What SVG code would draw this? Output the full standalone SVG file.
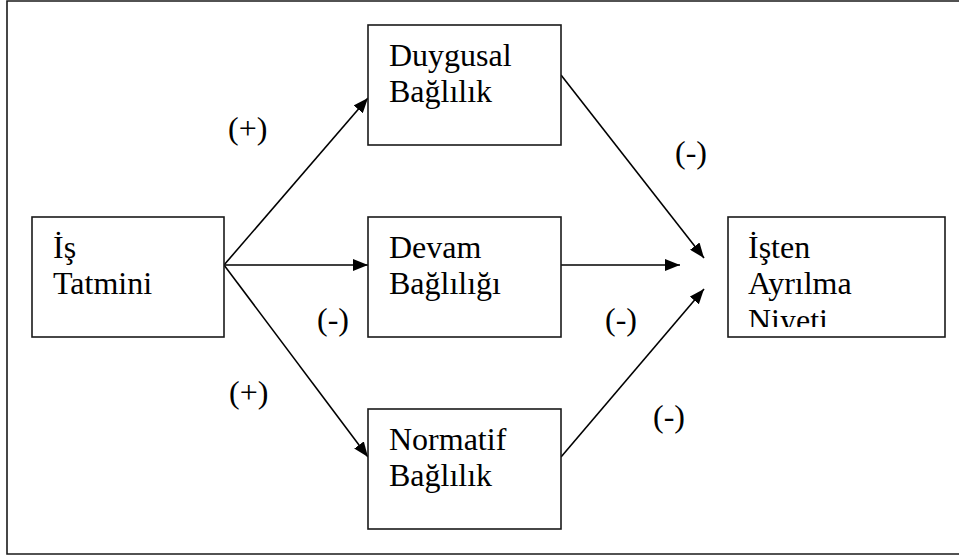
<svg xmlns="http://www.w3.org/2000/svg" width="959" height="558" viewBox="0 0 959 558">
<style>
.frame{fill:none;stroke:#1a1a1a;stroke-width:1.6}
.box{fill:#fff;stroke:#1a1a1a;stroke-width:1.6}
.conn{stroke:#000;stroke-width:1.6;fill:none;marker-end:url(#ah)}
</style>
<defs>
<marker id="ah" viewBox="0 0 15 12" refX="15" refY="6" markerWidth="15" markerHeight="12" markerUnits="userSpaceOnUse" orient="auto">
<path d="M0,0 L15,6 L0,12 z" fill="#000"/>
</marker>
<clipPath id="clipIsten"><rect x="728" y="217" width="217" height="110"/></clipPath>
</defs>
<rect x="0" y="0" width="959" height="558" fill="#fff"/>
<path class="frame" d="M960,1 H7 V554 H960"/>

<g id="connectors">
<line class="conn" x1="224" y1="265" x2="368" y2="98"/>
<line class="conn" x1="224" y1="265" x2="368" y2="265"/>
<line class="conn" x1="224" y1="265" x2="368" y2="457"/>
<line class="conn" x1="561" y1="75" x2="704" y2="258"/>
<line class="conn" x1="561" y1="265" x2="680" y2="265"/>
<line class="conn" x1="561" y1="457" x2="704" y2="289"/>
</g>
<g id="labels" font-family="Times New Roman, Liberation Serif, serif" font-size="32" fill="#000">
<text x="228" y="138.5">(+)</text>
<text x="675" y="162.5">(-)</text>
<text x="317" y="329.5">(-)</text>
<text x="605" y="329.5">(-)</text>
<text x="229" y="402.5">(+)</text>
<text x="653" y="426.5">(-)</text>
</g>

<g id="is-tatmini" font-family="Times New Roman, Liberation Serif, serif" font-size="32">
<rect class="box" x="32" y="217" width="192" height="120"/>
<text x="53" y="257.5">İş</text>
<text x="53" y="294">Tatmini</text>
</g>

<g id="duygusal" font-family="Times New Roman, Liberation Serif, serif" font-size="32">
<rect class="box" x="368" y="25" width="193" height="120"/>
<text x="389" y="65.5">Duygusal</text>
<text x="389" y="102">Bağlılık</text>
</g>

<g id="devam" font-family="Times New Roman, Liberation Serif, serif" font-size="32">
<rect class="box" x="368" y="217" width="193" height="120"/>
<text x="389" y="257.5">Devam</text>
<text x="389" y="294">Bağlılığı</text>
</g>

<g id="normatif" font-family="Times New Roman, Liberation Serif, serif" font-size="32">
<rect class="box" x="368" y="409" width="193" height="120"/>
<text x="389" y="449.5">Normatif</text>
<text x="389" y="486">Bağlılık</text>
</g>

<g id="isten" font-family="Times New Roman, Liberation Serif, serif" font-size="32">
<rect class="box" x="728" y="217" width="217" height="120"/>
<g clip-path="url(#clipIsten)">
<text x="748" y="257.5">İşten</text>
<text x="748" y="294">Ayrılma</text>
<text x="748" y="330.5">Niyeti</text>
</g>
</g>
</svg>
